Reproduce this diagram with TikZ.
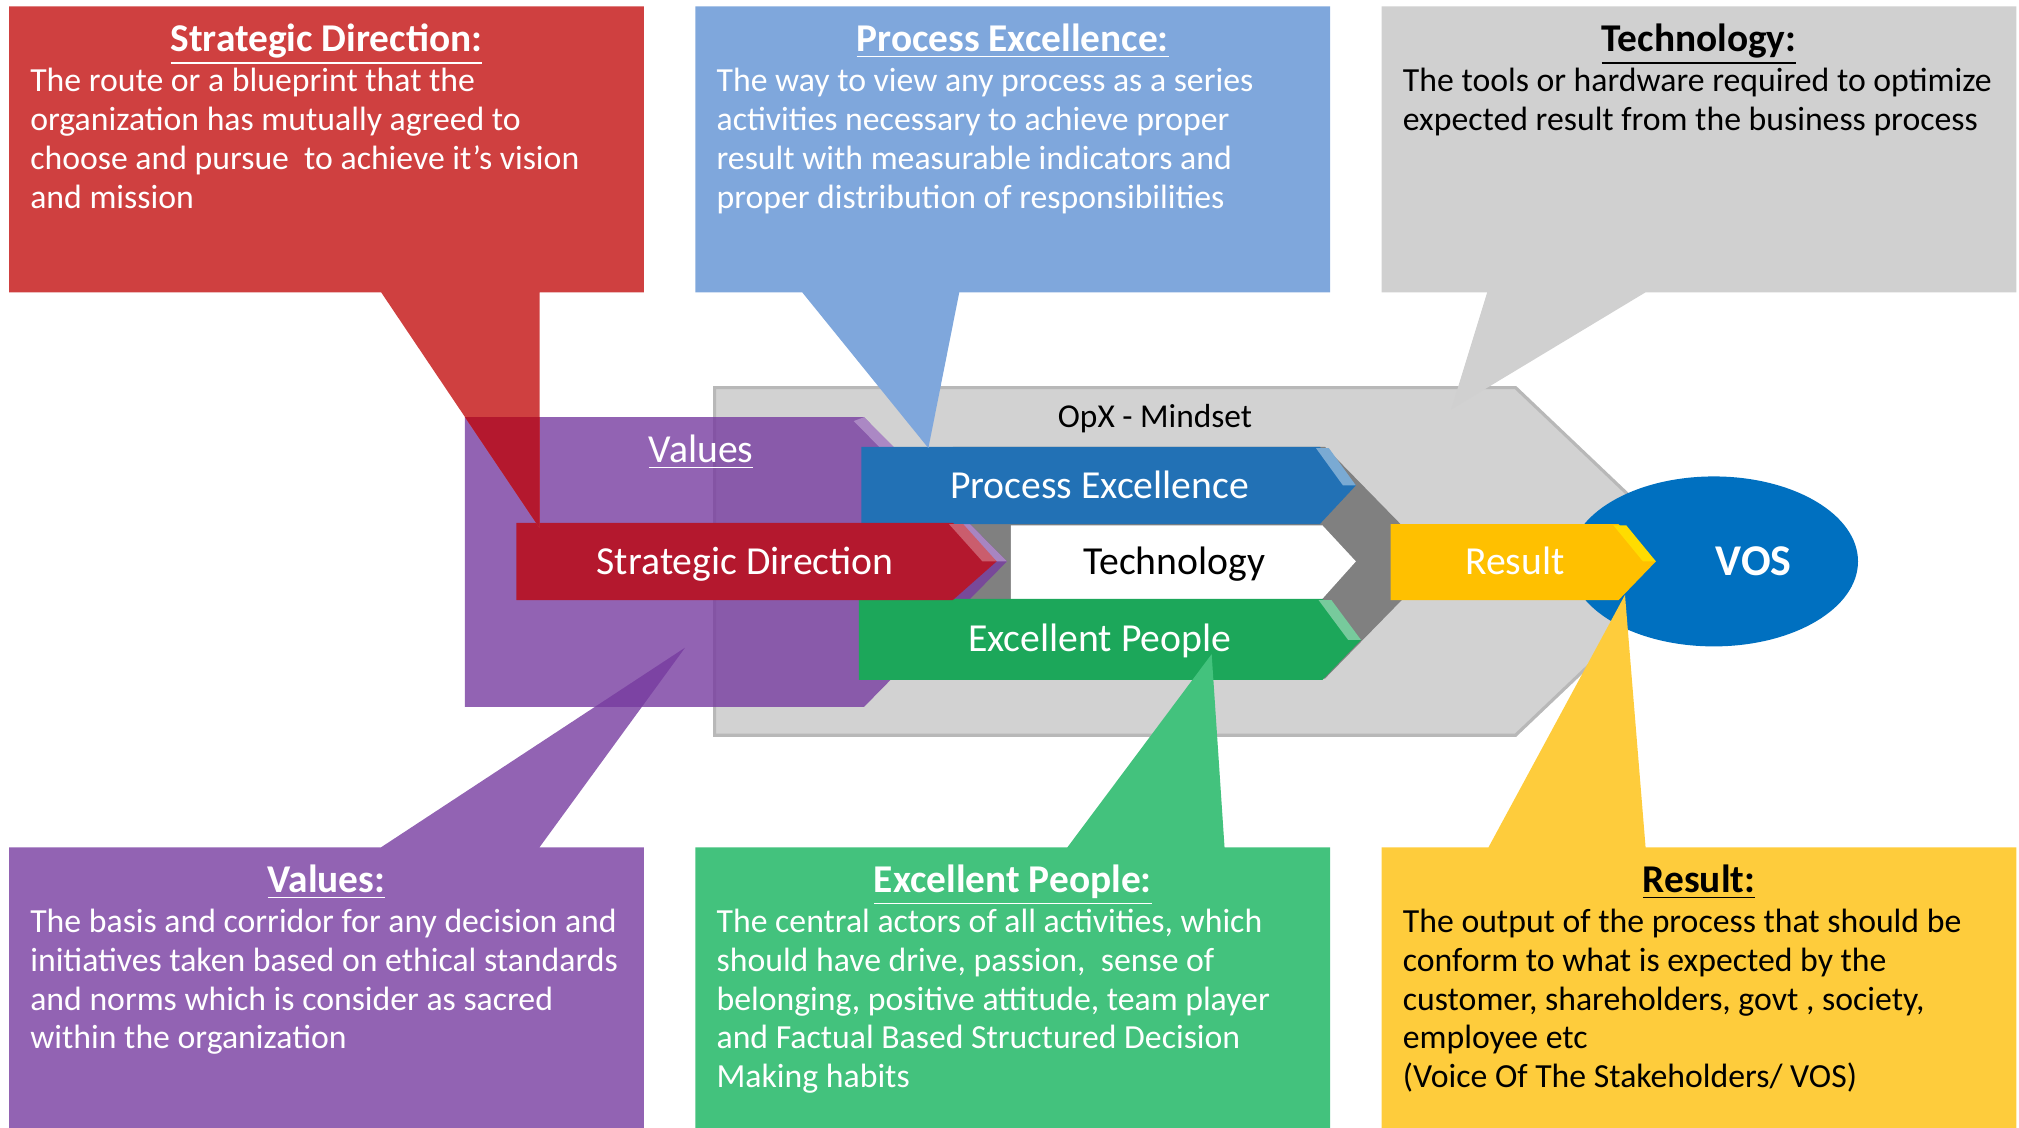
\documentclass[tikz,border=0pt]{standalone}
\usepackage{fontspec}
\setmainfont{Carlito}
\usepackage{xcolor}
\usepackage{tikz}
\usetikzlibrary{positioning}
\usetikzlibrary{shapes.geometric}

\definecolor{boxred}{RGB}{207,64,64}
\definecolor{boxblue}{RGB}{127,167,220}
\definecolor{boxgray}{RGB}{208,208,208}
\definecolor{boxpurple}{RGB}{146,99,179}
\definecolor{boxgreen}{RGB}{67,194,125}
\definecolor{boxyellow}{RGB}{254,204,60}
\definecolor{hexgray}{RGB}{210,210,210}
\definecolor{chevgray}{RGB}{128,128,128}
\definecolor{valpurple}{RGB}{119,60,160}
\definecolor{sdred}{RGB}{180,24,46}
\definecolor{peblue}{RGB}{34,113,181}
\definecolor{epgreen}{RGB}{28,167,90}
\definecolor{resyellow}{RGB}{255,192,0}
\definecolor{vosblue}{RGB}{0,112,192}

\tikzset{
  titletext/.style={anchor=base, inner sep=0pt, font=\fontsize{11.2}{13}\selectfont\bfseries},
  bodytext/.style={anchor=base west, inner sep=0pt, align=left, font=\fontsize{9.6}{11.06}\selectfont},
  bartext/.style={anchor=base, inner sep=0pt, font=\fontsize{11.3}{13}\selectfont},
}

\begin{document}
\begin{tikzpicture}[x=0.012876cm, y=-0.012876cm]
  \useasboundingbox (0,0) rectangle (1568,876);

  % the mindset block
  \coordinate (HexNW)   at (555,301);
  \coordinate (HexNE)   at (1177,301);
  \coordinate (HexTip)  at (1319,436);
  \coordinate (HexSE)   at (1177,571);
  \coordinate (HexSW)   at (555,571);
  \draw [fill=hexgray, draw=black!28, line width=0.9pt] (HexNW) -- (HexNE) -- (HexTip) -- (HexSE) -- (HexSW) -- cycle;
  \node (opx) [bartext, font=\fontsize{9.5}{11}\selectfont] at (897,332) {OpX - Mindset};

  % voice of the stakeholders
  \node (vos) [ellipse, fill=vosblue, minimum width=2.884cm, minimum height=1.70cm, inner sep=0pt] at (1331,436) {};

  % dark chevron behind the three bars
  \fill [chevgray] (740,347) -- (1029,347) -- (1117,437) -- (1029,527) -- (740,527) -- cycle;
  \fill [white]   (785,408) -- (1027,408) -- (1053,436) -- (1027,465) -- (785,465) -- cycle;
  \node (tech) [bartext] at (912,446) {Technology};

  % the values callout sits under the see-through values block
  \fill [boxpurple] (7,658) -- (296,658) -- (532,503) -- (419,658) -- (500,658) -- (500,876) -- (7,876) -- cycle;

  % values, see-through
  \coordinate (ValNW)  at (361,324);
  \coordinate (ValNE)  at (671,324);
  \coordinate (ValTip) at (782,436);
  \coordinate (ValSE)  at (671,549);
  \coordinate (ValSW)  at (361,549);
  \fill [valpurple, fill opacity=0.8] (ValNW) -- (ValNE) -- (ValTip) -- (ValSE) -- (ValSW) -- cycle;
  \fill [valpurple!55!white, fill opacity=0.8] (ValNE) -- (ValTip) -- (771,436) -- (663,327) -- cycle;% bevel
  \node (values) [bartext, text=white] at (544.5,359) {\underline{Values}};

  % process and people bars
  \fill [peblue]  (669,347) -- (1025,347) -- (1053,377) -- (1025,407) -- (669,407) -- cycle;
  \fill [peblue!60!white] (1022,348) -- (1032,348) -- (1053,377) -- (1043,377) -- cycle;% bevel
  \fill [epgreen] (667,465) -- (1027,465) -- (1057,497) -- (1027,528) -- (667,528) -- cycle;
  \fill [epgreen!60!white] (1024,466) -- (1034,466) -- (1057,497) -- (1047,497) -- cycle;% bevel
  \node (pe)   [bartext, text=white] at (854,387) {Process Excellence};
  \node (ep)   [bartext, text=white] at (854,506) {Excellent People};

  % strategic direction and result
  \fill [sdred]     (401,406) -- (740,406) -- (774,436) -- (740,466) -- (401,466) -- cycle;
  \fill [sdred!70!white] (737,407) -- (748,407) -- (774,436) -- (763,436) -- cycle;% bevel
  \fill [resyellow] (1080,407) -- (1257,407) -- (1286,436) -- (1257,466) -- (1080,466) -- cycle;
  \fill [resyellow!55!yellow] (1253,408) -- (1263,408) -- (1286,436) -- (1276,436) -- cycle;% bevel
  \node (sd)     [bartext, text=white] at (578.7,446.5) {Strategic Direction};
  \node (result) [bartext, text=white] at (1176.5,446) {Result};
  \node (vostext) [bartext, text=white, font=\fontsize{12.5}{14}\selectfont\bfseries] at (1362,447) {VOS};

  % callouts on top
  \fill [boxred]    (7,5) -- (500,5) -- (500,227) -- (419,227) -- (419,410) -- (296,227) -- (7,227) -- cycle;
  \begin{scope}
    \clip (ValNW) -- (ValNE) -- (ValTip) -- (ValSE) -- (ValSW) -- cycle;
    \fill [sdred] (296,227) -- (419,410) -- (419,227) -- cycle;% darker where it crosses values
  \end{scope}
  \fill [boxblue]   (540,5) -- (1033,5) -- (1033,227) -- (745,227) -- (721,348) -- (623,227) -- (540,227) -- cycle;
  \fill [boxgray]   (1073,5) -- (1566,5) -- (1566,227) -- (1278,227) -- (1127,318) -- (1155,227) -- (1073,227) -- cycle;
  \fill [boxgreen]  (540,658) -- (829,658) -- (941,508) -- (951,658) -- (1033,658) -- (1033,876) -- (540,876) -- cycle;
  \fill [boxyellow] (1073,658) -- (1156,658) -- (1262,462) -- (1278,658) -- (1566,658) -- (1566,876) -- (1073,876) -- cycle;

  % top texts (bodies sit on the baseline of their last line)
  \node (sdTitle) [titletext, text=white] at (253.5,40) {\underline{Strategic Direction:}};
  \node (sdBody)  [bodytext, text=white]  at (23,161.6) {The route or a blueprint that the\\organization has mutually agreed to\\choose and pursue\ \ to achieve it’s vision\\and mission};
  \node (peTitle) [titletext, text=white] at (786.5,40) {\underline{Process Excellence:}};
  \node (peBody)  [bodytext, text=white]  at (556,161.6) {The way to view any process as a series\\activities necessary to achieve proper\\result with measurable indicators and\\proper distribution of responsibilities};
  \node (techTitle) [titletext] at (1319.5,40) {\underline{Technology:}};
  \node (techBody)  [bodytext]  at (1089,101.2) {The tools or hardware required to optimize\\expected result from the business process};

  % bottom texts
  \node (valTitle) [titletext, text=white] at (253.5,693) {\underline{Values:}};
  \node (valBody)  [bodytext, text=white]  at (23,814.6) {The basis and corridor for any decision and\\initiatives taken based on ethical standards\\and norms which is consider as sacred\\within the organization};
  \node (epTitle) [titletext, text=white] at (786.5,693) {\underline{Excellent People:}};
  \node (epBody)  [bodytext, text=white]  at (556,844.8) {The central actors of all activities, which\\should have drive, passion,\ \ sense of\\belonging, positive attitude, team player\\and Factual Based Structured Decision\\Making habits};
  \node (resTitle) [titletext] at (1319.5,693) {\underline{Result:}};
  \node (resBody)  [bodytext]  at (1089,844.8) {The output of the process that should be\\conform to what is expected by the\\customer, shareholders, govt , society,\\employee etc\\(Voice Of The Stakeholders/ VOS)};
\end{tikzpicture}
\end{document}
